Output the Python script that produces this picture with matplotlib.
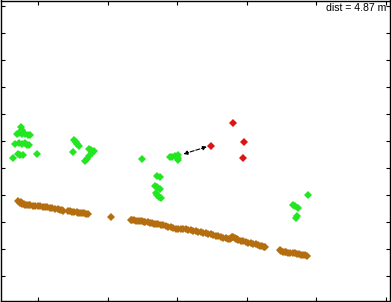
#!/usr/bin/env python3
# coding: utf-8

import numpy
import matplotlib
matplotlib.use('Agg')
from matplotlib import pyplot as plt


DIST_LABEL = 'dist = 4.87 m'

# ground line (metres)
floor_x = [-0.283, -0.263, -0.244, -0.226, -0.208, -0.183, -0.158, -0.136, -0.115, -0.079,
           -0.043, -0.007, 0.029, 0.065, 0.101, 0.136, 0.172, 0.208, 0.244, 0.280, 0.316,
           0.338, 0.359,
           0.435, 0.462, 0.489, 0.522, 0.556, 0.580, 0.603, 0.632, 0.661, 0.692, 0.723,
           1.049,
           1.329, 1.354, 1.379, 1.410, 1.441, 1.468, 1.494, 1.516, 1.537, 1.573, 1.609, 1.638,
           1.667, 1.698, 1.728, 1.762, 1.796, 1.834, 1.872, 1.906, 1.940, 1.978, 2.016, 2.050,
           2.083, 2.121, 2.160, 2.193, 2.227, 2.265, 2.303, 2.337, 2.371, 2.409, 2.447, 2.480,
           2.514, 2.553, 2.591, 2.625, 2.658, 2.696, 2.734, 2.754, 2.773, 2.790, 2.806, 2.826,
           2.845, 2.862, 2.878, 2.912, 2.945, 2.983, 3.022, 3.056, 3.089, 3.127, 3.165, 3.192,
           3.218, 3.240, 3.262,
           3.477, 3.498, 3.520, 3.542, 3.563, 3.592, 3.621, 3.657, 3.693, 3.722, 3.750, 3.779,
           3.808, 3.835, 3.861]
floor_y = [1.386, 1.345, 1.359, 1.322, 1.331, 1.320, 1.316, 1.311, 1.307, 1.302,
           1.297, 1.292, 1.288, 1.281, 1.275, 1.268, 1.262, 1.252, 1.242, 1.230, 1.219,
           1.214, 1.210,
           1.201, 1.195, 1.188, 1.183, 1.177, 1.172, 1.167, 1.161, 1.156, 1.150, 1.145,
           1.089,
           1.043, 1.036, 1.028, 1.021, 1.015, 1.013, 1.010, 1.006, 1.002, 0.992, 0.982, 0.975,
           0.969, 0.965, 0.960, 0.947, 0.935, 0.922, 0.909, 0.897, 0.885, 0.876, 0.867, 0.864,
           0.861, 0.858, 0.854, 0.843, 0.833, 0.825, 0.817, 0.805, 0.793, 0.784, 0.774, 0.765,
           0.755, 0.746, 0.737, 0.723, 0.709, 0.695, 0.681, 0.690, 0.700, 0.712, 0.724, 0.707,
           0.690, 0.676, 0.663, 0.650, 0.638, 0.625, 0.612, 0.602, 0.592, 0.581, 0.570, 0.559,
           0.548, 0.538, 0.527,
           0.477, 0.462, 0.449, 0.441, 0.434, 0.430, 0.425, 0.420, 0.416, 0.410, 0.403, 0.393,
           0.384, 0.378, 0.371]

# obstacle points
green_x = [-0.244, -0.237, -0.273, -0.309, -0.230, -0.187, -0.144, -0.115, -0.330, -0.273,
           -0.230, -0.187, -0.158, -0.129, -0.366, -0.287, -0.259, -0.216, -0.010,
           0.517, 0.539, 0.560, 0.582, 0.499, 0.733, 0.762, 0.805, 0.776, 0.733, 0.704, 0.682,
           1.501,
           1.897, 1.932, 1.968, 2.012, 2.012, 2.004,
           1.710, 1.746, 1.674, 1.710, 1.753, 1.688, 1.710, 1.739, 1.767,
           3.879, 3.664, 3.693, 3.729, 3.714, 3.700]
green_y = [2.760, 2.704, 2.649, 2.630, 2.630, 2.621, 2.611, 2.611, 2.444, 2.454,
           2.444, 2.463, 2.426, 2.426, 2.185, 2.259, 2.240, 2.240, 2.259,
           2.519, 2.481, 2.444, 2.407, 2.287, 2.361, 2.342, 2.314, 2.277, 2.222, 2.175, 2.129,
           2.166,
           2.212, 2.203, 2.222, 2.249, 2.194, 2.147,
           1.850, 1.823, 1.674, 1.646, 1.618, 1.544, 1.498, 1.470, 1.451,
           1.498, 1.321, 1.294, 1.266, 1.108, 1.071]

# target points
red_x = [2.806, 2.481, 2.964, 2.941]
red_y = [2.840, 2.407, 2.476, 2.179]

# measured distance (arrow end points)
arrow_x = [2.088, 2.428]
arrow_y = [2.259, 2.394]


def main():
    fig = plt.figure(figsize=(3.91, 3.02), dpi=100)
    ax = fig.add_axes([0.5 / 391, 1.5 / 302, 389.5 / 391, 300 / 302])

    style = {'linestyle': '', 'marker': 'D', 'markersize': 3.8, 'markeredgewidth': 0}
    ax.plot(floor_x, floor_y, color='#b46e0f', **style)
    ax.plot(green_x, green_y, color='#22e622', **style)
    ax.plot(red_x, red_y, color='#dd1414', **style)

    ax.annotate('', xy=(arrow_x[1], arrow_y[1]), xytext=(arrow_x[0], arrow_y[0]),
                arrowprops={'arrowstyle': '<|-|>', 'color': 'black', 'linestyle': '--',
                            'linewidth': 0.8, 'mutation_scale': 6,
                            'shrinkA': 0, 'shrinkB': 0})

    ax.text(0.836, 0.993, DIST_LABEL, transform=ax.transAxes, ha='left', va='top',
            fontsize=7.6, family='Liberation Sans')

    ax.set_xlim(-0.539, 5.057)
    ax.set_ylim(-0.460, 5.108)
    ax.set_xticks(numpy.arange(0, 6))
    ax.set_yticks(numpy.arange(0, 5.01, 0.5))
    ax.tick_params(direction='in', length=3, width=0.8, top=True, right=True,
                   labelbottom=False, labelleft=False)
    for spine in ax.spines.values():
        spine.set_linewidth(1.0)

    fig.savefig('out.png', dpi=100)


if __name__ == "__main__":
    main()
